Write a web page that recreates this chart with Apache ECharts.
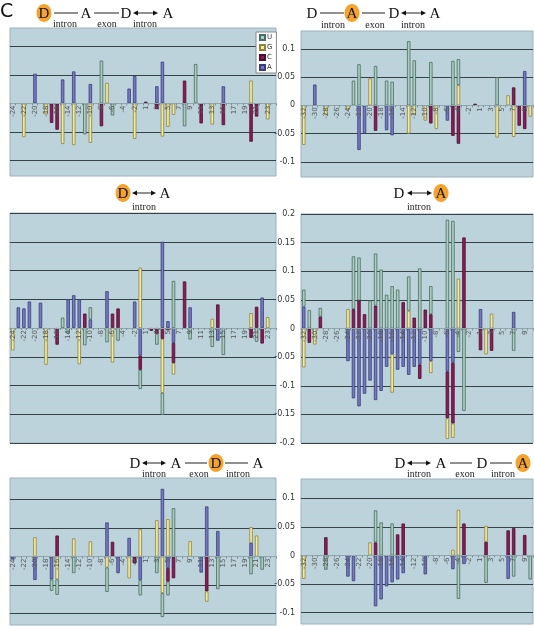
<!DOCTYPE html>
<html><head><meta charset="utf-8">
<script src="https://cdn.jsdelivr.net/npm/echarts@6/dist/echarts.min.js"></script>
<style>html,body{margin:0;padding:0;background:#fff}#c{width:534px;height:626px}</style>
</head><body><div id="c"></div>
<script>
// ---------- categories & ticks ----------
const catsLeft = ['-24','-23','-22','-21','-20','-19','-18','-17','-16','-15','-14','-13','-12','-11','-10','-9','-8','-7','-6','-5','-4','-3','-2','-1',
  '1','2','3','4','5','6','7','8','9','10','11','12','13','14','15','16','17','18','19','20','21','22','23','24'];
const catsRight = ['-32','-31','-30','-29','-28','-27','-26','-25','-24','-23','-22','-21','-20','-19','-18','-17','-16','-15','-14','-13','-12','-11','-10','-9','-8','-7','-6','-5','-4','-3','-2','-1',
  '1','2','3','4','5','6','7','8','9','10'];
const ticksSmall = [-0.1, -0.05, 0, 0.05, 0.1];
const ticksBig = [-0.2, -0.15, -0.1, -0.05, 0, 0.05, 0.1, 0.15, 0.2];
const legendNames = ['U', 'G', 'C', 'A'];

// ---------- panel 1 (D highlighted, D-A-D<->A) ----------
const p1U = [0,0,0,0,0,0,0,0, 0,0,0,0,0,-0.054,0,0, 0.075,0,-0.021,0,0,0,0,0, 0,0,0,0,0,0,0,-0.040, 0,0.069,0,0,0,0,0,0, 0,0,0,0,0,0,0,0];
const p1G = [0,0,-0.059,0,0,0,-0.019,0, 0,-0.071,0,-0.073,0,0,-0.069,0, 0,0.036,0,0,0,0,-0.062,0, 0,0,0,-0.058,-0.041,-0.020,0,0, 0,0,0,0,-0.037,0,0,0, 0,0,0,0.040,0,0,-0.028,0];
const p1C = [0,0,0,0,0,0,0,-0.034, -0.046,0,0,0,0,0,0,0, -0.040,0,0,0,0,0,0,0, 0.003,0,-0.010,0,0,0,0,0.040, 0,0,-0.035,0,0,0,-0.038,0, 0,0,0,-0.067,-0.023,0,0,0];
const p1A = [0,0,0,0,0.052,0,0,0, 0,0.042,0,0.056,0,0,0.034,0, 0,0,0,0,0,0.026,0.048,0, 0,0,0.030,0.073,0,0,0,0, 0,0,0,0,0,0,0.030,0, 0,0,0,0,0,0,0,0];

// ---------- panel 2 (A highlighted) ----------
const p2U = [0,0,0,0,0,0,0,0, 0,0.044,0.073,0,0,0.070,0,0.044, 0.042,0,0,0.114,0.080,0,0,0.077, 0,0,0,0.079,0.046,0,0,0, 0,0,0,0.050,0,0,0,0,0,0];
const p2G = [-0.070,0,0,0,-0.017,0,0,0, -0.008,0,0,0,0.048,0,0,0, 0,0,0,-0.050,-0.017,0,-0.027,0, -0.042,0,0,0,0.036,0,0,0, 0,0,0,-0.057,0,0.018,-0.056,0,0,-0.020];
const p2C = [0,0,0,0,0,0,0,0, 0,0,0,0,0,-0.045,0,0, 0,0,0,0,0,0,0,-0.032, 0,0,0,-0.054,-0.068,0,0,0.003, 0,0,0,0,0,0,0.032,-0.036,-0.042,0];
const p2A = [0,0,0.037,0,0,0,0,0, 0,0,-0.079,-0.050,0,0,0,-0.044, -0.053,0,0,0,0,0,0,0, 0,0,-0.027,0,0,0,0,0, 0,0,0,0,0,0,0,0,0.061,0];

// ---------- panel 3 (D<->A, D highlighted) ----------
const p3U = [0,0,0,0,0,0,0,0, 0,0.018,-0.010,0,0,-0.030,0.021,0, 0,-0.025,0,-0.022,0,0,0,-0.033, 0,0,-0.019,-0.038,0,0.082,0,0, -0.020,0,0,0,-0.033,0,-0.047,0, 0,0,0,0,-0.024,0,0,0];
const p3G = [-0.039,0,0,0,0,0,-0.064,0, 0,0,0,0,-0.063,0,0,0, 0,0,-0.060,0,0,0,0,0.105, 0,0,0,-0.094,0,-0.020,0,0, 0,0,0,0,0.016,0,0,0, 0,0,0,0.026,0,0,0.019,0];
const p3C = [0,0,0,0,0,0,0,0, -0.029,0,0,0,0,0.025,0,0, 0,0,0.025,0.034,0,0,0,-0.025, 0,-0.005,-0.010,-0.019,-0.004,-0.035,0,0.081, 0,0,0,0,0,0.041,0,0, 0,0,0,-0.017,0.037,-0.027,0,0];
const p3A = [0,0.036,0.034,0.046,0,0.044,0,0, 0,0,0.050,0.057,0.050,0,0.015,0, 0,0.064,0,0,0,0,0.046,-0.048, 0,0,0,0.150,0.012,-0.026,0,0, 0.036,0,0,0,0,-0.022,0,0, 0,0,0,0,0,0.053,0,0];

// ---------- panel 4 (D<->A, A highlighted) ----------
const p4U = [0.030,0.032,0,0.015,0,0,0,0, 0,0.092,0.075,0,0.049,0.091,0.103,0.059, 0.074,0.068,0,0.060,0,0.105,0,0.049, 0,0,0.190,0.188,-0.041,-0.144,0,0, 0,0,0,0,0,0,-0.039,0,0,0];
const p4G = [-0.068,0,-0.028,0,0,0,0,0, 0.034,0,0,0,0,0,0,0, -0.067,0,0,0.031,0,0,0,-0.021, 0,0,-0.036,-0.025,0.087,0,0,0, 0,-0.045,0.026,0,0,0,0,0,0,0];
const p4C = [0,-0.025,0,0.021,0,0,0,0, 0,0.034,0.049,0.025,0,0.040,0,0, 0,0,0.046,0,0.019,-0.025,0.033,0.025, 0,0,-0.082,-0.106,0,0.159,0,0, -0.038,0,-0.039,0,0,0,0,0,0,0];
const p4A = [0.038,0,0,0,0,0,0,0, -0.057,-0.122,-0.136,-0.114,-0.091,-0.125,-0.109,-0.067, -0.045,-0.072,-0.067,-0.081,-0.067,-0.063,0,-0.057, 0,0,-0.075,-0.060,0,0,0,0, 0.034,0,0,0,0,0,0.029,0,0,0];

// ---------- panel 5 (D<->A-D-A, second D highlighted) ----------
const p5U = [0,0,0,0,0,0,0,-0.020, -0.027,0,0,-0.029,0,0,0,0, 0,-0.043,0,0,0,0,0,-0.027, 0,0,-0.029,-0.042,-0.024,0.085,0,0, 0,0,0,0,0,-0.057,0,0, 0,0,0,-0.031,0,-0.023,0,0];
const p5G = [0,0,0,0,0.034,0,0,0, -0.040,0,0,0.032,0,0,0.027,0, 0,-0.019,0,0,0,-0.038,0,0.048, 0,0,0.064,-0.064,0.066,0,0,0, 0.027,0,0,-0.018,0,0,0,0, 0,0,0,0.028,0.037,0,0,0];
const p5C = [0,0,0,0,0,0,0,0, 0.037,0,0,0,0,0,0,0, 0,0,0.026,0,0,0,-0.012,0, 0,0,0,0,-0.024,-0.038,0,0, 0,0,0,-0.061,0,0,0,0, 0,0,0,0,0,0,0,0];
const p5A = [-0.005,0,0,0,-0.041,0,0,-0.040, 0,0,0,0,0,0,0,0, 0,0.060,0,-0.029,0,0.033,0,-0.041, 0,0,0,0.119,-0.020,0,0,0, 0,0,-0.028,0.088,0,0.045,0,0, 0,0,0,0.024,0,0,0,0];

// ---------- panel 6 (D<->A-D-A, last A highlighted) ----------
const p6U = [0,0,0,0,-0.025,0,0,0, 0,0,0,0,0,0.056,0.058,0, 0.056,0,0,0,0,0,0,0, 0,0,0,0,-0.076,0,0,0, 0,-0.048,0,0,0,0,-0.037,0,0,-0.042];
const p6G = [-0.041,0,0,0,0,0,0,0, 0,0,0,0,0.023,0,0,0, 0,0,0,0,0,0,0,0, 0,0,0,0.010,0.080,0,0,0, 0,0.028,0,0,0,0,0,0,0,0];
const p6C = [0,0,0,0,0.032,0,0,0, 0,0,0,0,0,0.023,0,0, 0,0.037,0.056,0,0,0,0,0, 0,0,0,0,0,0.056,0,0, 0,0.024,0,0,0,0.044,0.048,0,0.036,0];
const p6A = [0,0,0,0,0,0,0,0, -0.037,-0.045,0,0,0,-0.089,-0.077,-0.054, -0.047,-0.042,-0.031,0,0,0,-0.033,0, 0,0,0,-0.024,0,-0.015,0,0, 0,0,0,0,0,-0.041,0,0,0,0];

// ---------- styling / layout ----------
const fills = { U: '#afcbbf', G: '#f4eb9e', C: '#8c1c57', A: '#7679bd' };
const borders = { U: '#456f60', G: '#8d8340', C: '#4b0f2f', A: '#3a3d7c' };
const panels = [
  { cats: catsLeft,  d: {U:p1U,G:p1G,C:p1C,A:p1A}, g: {left:10,  top:28,  width:266, height:148}, min:-0.127, max:0.132, ticks: ticksSmall, lab:false },
  { cats: catsRight, d: {U:p2U,G:p2G,C:p2C,A:p2A}, g: {left:301, top:31,  width:232, height:146}, min:-0.127, max:0.132, ticks: ticksSmall, lab:true },
  { cats: catsLeft,  d: {U:p3U,G:p3G,C:p3C,A:p3A}, g: {left:10,  top:213, width:266, height:230}, min:-0.2,   max:0.2,   ticks: ticksBig,   lab:false },
  { cats: catsRight, d: {U:p4U,G:p4G,C:p4C,A:p4A}, g: {left:301, top:214, width:232, height:229}, min:-0.2,   max:0.2,   ticks: ticksBig,   lab:true },
  { cats: catsLeft,  d: {U:p5U,G:p5G,C:p5C,A:p5A}, g: {left:10,  top:478, width:266, height:147}, min:-0.12,  max:0.138, ticks: ticksSmall, lab:false },
  { cats: catsRight, d: {U:p6U,G:p6G,C:p6C,A:p6A}, g: {left:301, top:479, width:232, height:145}, min:-0.12,  max:0.134, ticks: ticksSmall, lab:true }
];

const grids = [], xAxes = [], yAxes = [], series = [];
panels.forEach((p, i) => {
  grids.push(Object.assign({ show: true, backgroundColor: '#bdd3dc', borderColor: '#9db2ba', borderWidth: 1 }, p.g));
  // place the category axis where the value axis crosses zero
  const zeroOffset = -p.g.height * (-p.min) / (p.max - p.min);
  xAxes.push({
    gridIndex: i, type: 'category', data: p.cats, z: 5, position: 'bottom', offset: zeroOffset,
    axisLine: { onZero: false, lineStyle: { color: '#93a7ae', width: 1 } },
    axisTick: { show: true, length: 2, interval: 0, lineStyle: { color: '#7d8f96' } },
    axisLabel: { interval: 1, rotate: 90, fontSize: 7, color: '#555', margin: 2, fontFamily: 'DejaVu Sans' }
  });
  yAxes.push({
    gridIndex: i, type: 'value', min: p.min, max: p.max,
    axisLine: { show: false },
    axisTick: { show: false, customValues: p.ticks },
    axisLabel: { show: p.lab, customValues: p.ticks, fontSize: 8, color: '#333', margin: 6, fontFamily: 'DejaVu Sans',
      formatter: v => String(Number(v.toFixed(2))) },
    splitLine: { show: true, lineStyle: { color: p.ticks.map(t => t === 0 ? 'rgba(0,0,0,0)' : '#364246'), width: 1.2 } }
  });
  ['A', 'C', 'G', 'U'].forEach(n => {
    series.push({
      type: 'bar', name: n, xAxisIndex: i, yAxisIndex: i, stack: 'st' + i,
      barWidth: '62%',
      data: p.d[n].map(v => v === 0 ? '-' : v),
      itemStyle: { color: fills[n], borderColor: borders[n], borderWidth: 0.8 }
    });
  });
});

// ---------- header diagrams ----------
const SERIF = '"Liberation Serif", "DejaVu Serif", serif';
const gfx = [];
function letter(ch, x, y, hi) {
  if (hi) gfx.push({ type: 'ellipse', shape: { cx: x, cy: y, rx: 7.5, ry: 9 }, style: { fill: '#f4a42e' }, z: 10 });
  gfx.push({ type: 'text', x: x, y: y + 1, style: { text: ch, font: '15px ' + SERIF, fill: '#111', align: 'center', verticalAlign: 'middle' }, z: 11 });
}
function hline(x1, x2, y) {
  gfx.push({ type: 'line', shape: { x1: x1, y1: y, x2: x2, y2: y }, style: { stroke: '#222', lineWidth: 1 }, z: 10 });
}
function dbl(x1, x2, y) {
  hline(x1 + 3, x2 - 3, y);
  gfx.push({ type: 'polygon', shape: { points: [[x1, y], [x1 + 5, y - 2.5], [x1 + 5, y + 2.5]] }, style: { fill: '#111' }, z: 10 });
  gfx.push({ type: 'polygon', shape: { points: [[x2, y], [x2 - 5, y - 2.5], [x2 - 5, y + 2.5]] }, style: { fill: '#111' }, z: 10 });
}
function sub(t, x, y) {
  gfx.push({ type: 'text', x: x, y: y, style: { text: t, font: '10px ' + SERIF, fill: '#222', align: 'center', verticalAlign: 'middle' }, z: 11 });
}
// big "C"
gfx.push({ type: 'text', x: 0, y: 12, style: { text: 'C', font: '19px "DejaVu Sans", sans-serif', fill: '#111', align: 'left', verticalAlign: 'middle' } });
// panel 1
letter('D', 44, 13, true); hline(54, 78, 13); letter('A', 86, 13); hline(94, 119, 13); letter('D', 126, 13); dbl(133, 158, 13); letter('A', 168, 13);
sub('intron', 65, 24); sub('exon', 107, 24); sub('intron', 145, 24);
// panel 2
letter('D', 312, 13); hline(320, 344, 13); letter('A', 352, 13, true); hline(362, 385, 13); letter('D', 394, 13); dbl(401, 426, 13); letter('A', 435, 13);
sub('intron', 333, 25); sub('exon', 375, 25); sub('intron', 413, 25);
// panel 3
letter('D', 123, 193, true); dbl(132, 156, 193); letter('A', 165, 193);
sub('intron', 144, 207);
// panel 4
letter('D', 399, 193); dbl(407, 432, 193); letter('A', 441, 193, true);
sub('intron', 419, 207);
// panel 5
letter('D', 135, 463); dbl(142, 166, 463); letter('A', 176, 463); hline(185, 207, 463); letter('D', 216, 463, true); hline(225, 248, 463); letter('A', 258, 463);
sub('intron', 154, 474); sub('exon', 199, 474); sub('intron', 238, 474);
// panel 6
letter('D', 400, 463); dbl(407, 431, 463); letter('A', 441, 463); hline(450, 472, 463); letter('D', 482, 463); hline(490, 512, 463); letter('A', 523, 463, true);
sub('intron', 419, 474); sub('exon', 465, 474); sub('intron', 503, 474);

const chart = echarts.init(document.getElementById('c'), null, { renderer: 'canvas' });
chart.setOption({
  animation: false,
  backgroundColor: '#fff',
  grid: grids, xAxis: xAxes, yAxis: yAxes, series: series,
  legend: {
    data: legendNames, orient: 'vertical', left: 256, top: 32, icon: 'rect',
    itemWidth: 5, itemHeight: 5, itemGap: 3, padding: [2, 4, 2, 3], selectedMode: false,
    backgroundColor: '#fff', borderColor: '#8a8a8a', borderWidth: 1,
    textStyle: { fontSize: 7, color: '#333', fontFamily: 'DejaVu Sans', padding: [0, 0, 0, -3] }
  },
  graphic: gfx
});
</script></body></html>
